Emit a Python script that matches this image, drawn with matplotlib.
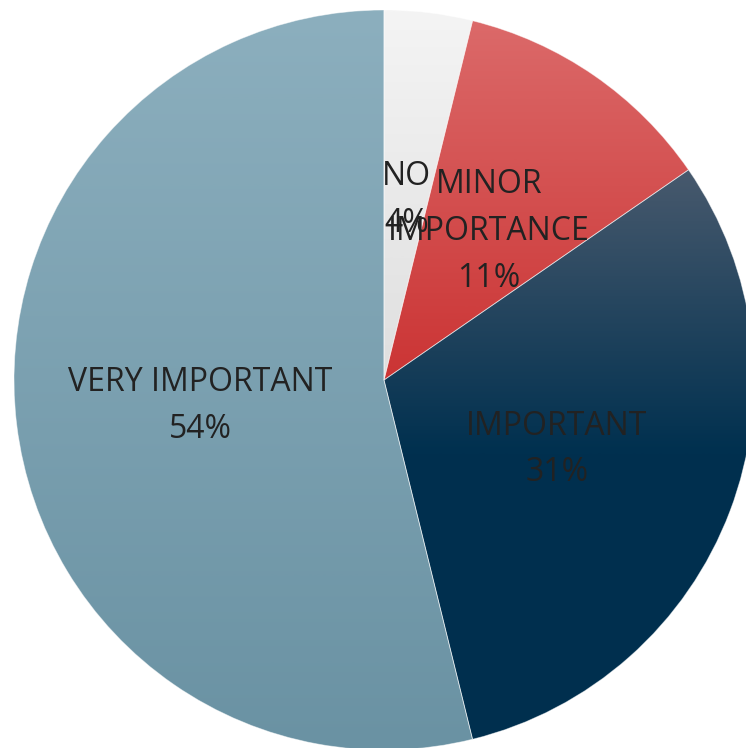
import numpy as np
import matplotlib
matplotlib.use("Agg")
import matplotlib.pyplot as plt
from matplotlib.colors import LinearSegmentedColormap

plt.rcParams["font.family"] = ["Open Sans", "DejaVu Sans"]

# --- chart data ---
categories = ["NO", "MINOR\nIMPORTANCE", "IMPORTANT", "VERY IMPORTANT"]
counts = [1, 3, 8, 14]
pct_labels = ["4%", "11%", "31%", "54%"]

# gradient stops per slice (position over the full pie height, top = 0)
grad_stops = [
    [(0.0, "#f4f4f4"), (0.5, "#dfdfdf"), (1.0, "#dfdfdf")],
    [(0.0, "#dc6b6b"), (0.5, "#cb3434"), (1.0, "#cb3434")],
    [(0.0, "#4a5c70"), (0.22, "#47596d"), (0.6, "#00304f"), (1.0, "#002f4e")],
    [(0.0, "#8cafbe"), (1.0, "#6a92a3")],
]

W, H = 746, 748
cx, cy, r = 384, H - 380, 370

fig = plt.figure(figsize=(W / 100, H / 100), dpi=100)
ax = fig.add_axes([0, 0, 1, 1])

wedges, _ = ax.pie(
    counts,
    center=(cx, cy),
    radius=r,
    startangle=90,
    counterclock=False,
    frame=True,
    wedgeprops=dict(linewidth=0.6, edgecolor=(1, 1, 1, 0.5)),
)
ax.set_xlim(0, W)
ax.set_ylim(0, H)
ax.set_aspect("equal")
ax.axis("off")

# vertical gradient, clipped to each wedge
grad = np.linspace(0, 1, 512).reshape(-1, 1)
for w, stops in zip(wedges, grad_stops):
    cmap = LinearSegmentedColormap.from_list("g", stops)
    w.set_facecolor("none")
    im = ax.imshow(
        grad,
        cmap=cmap,
        extent=(cx - r, cx + r, cy - r, cy + r),
        origin="upper",
        aspect="auto",
        zorder=w.get_zorder() - 0.1,
        interpolation="bilinear",
    )
    im.set_clip_path(w)

# labels at half radius (text sits a few px low, like the original)
total = sum(counts)
start = 90.0
for name, c, pct in zip(categories, counts, pct_labels):
    span = 360.0 * c / total
    mid = np.deg2rad(start - span / 2)
    start -= span
    x = cx + 0.5 * r * np.cos(mid)
    y = cy + 0.5 * r * np.sin(mid) - 4
    ax.text(x, y, f"{name}\n{pct}", ha="center", va="center",
            fontsize=23, color="#222222", linespacing=1.55, zorder=5)

fig.savefig("out.png", dpi=100)
